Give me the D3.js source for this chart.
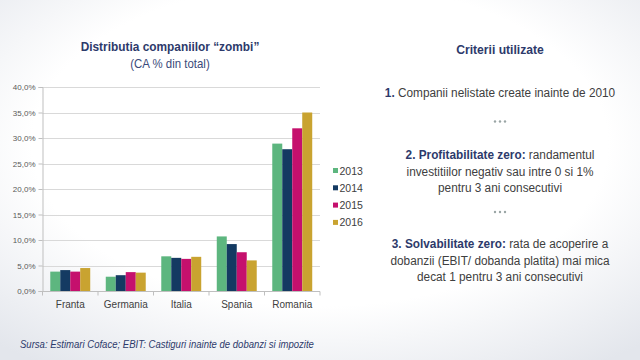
<!DOCTYPE html>
<html><head><meta charset="utf-8">
<script src="https://cdn.jsdelivr.net/npm/d3@7/dist/d3.min.js"></script>
<style>body{margin:0;padding:0;overflow:hidden}svg{display:block}</style>
</head><body><svg id="c" width="640" height="360"></svg>
<script>
const categories = ["Franta","Germania","Italia","Spania","Romania"];
const years = ["2013","2014","2015","2016"];
const values2013 = [3.8, 2.8, 6.8, 10.7, 28.9];
const values2014 = [4.1, 3.1, 6.5, 9.2, 27.8];
const values2015 = [3.8, 3.7, 6.3, 7.6, 31.9];
const values2016 = [4.5, 3.6, 6.7, 6.0, 35.0];
const yTicks = [0,5,10,15,20,25,30,35,40];
const colors = ["#5db67f","#143a62","#c5106d","#c9a330"];
const series = [values2013, values2014, values2015, values2016];

const FONT = "'Liberation Sans',Arial,sans-serif";
const svg = d3.select("#c");
const defs = svg.append("defs");
const rg = defs.append("radialGradient").attr("id","bg").attr("cx","50%").attr("cy","40%").attr("r","75%");
rg.append("stop").attr("offset","0%").attr("stop-color","#ffffff");
rg.append("stop").attr("offset","60%").attr("stop-color","#ffffff");
rg.append("stop").attr("offset","100%").attr("stop-color","#e3e6ec");
svg.append("rect").attr("width",640).attr("height",360).attr("fill","url(#bg)");

const x0 = d3.scaleBand().domain(categories).range([42.5,320]).paddingInner(0.28).paddingOuter(0.14);
const x1 = d3.scaleBand().domain(years).range([0,x0.bandwidth()]);
const y = d3.scaleLinear().domain([0,40]).range([291,87]);

// grid
svg.append("g").selectAll("line").data(yTicks.slice(1)).join("line")
  .attr("x1",42.5).attr("x2",320).attr("y1",d=>Math.round(y(d))+0.5).attr("y2",d=>Math.round(y(d))+0.5)
  .attr("stroke","#d9d9d9").attr("stroke-width",1);

// y axis
const yAxis = svg.append("g").attr("transform","translate(42.5,0)")
  .call(d3.axisLeft(y).tickValues(yTicks).tickSize(4).tickFormat(d=>d.toFixed(1).replace(".",",")+"%"));
yAxis.select(".domain").attr("stroke","#bfbfbf");
yAxis.selectAll(".tick line").attr("stroke","#bfbfbf");
yAxis.selectAll("text").attr("font-family",FONT).attr("font-size",8).attr("fill","#595959").attr("x",-7);

// bars
const groups = svg.append("g").selectAll("g").data(categories).join("g")
  .attr("transform",d=>`translate(${x0(d)},0)`);
groups.selectAll("rect").data((c,i)=>years.map((yr,j)=>({yr, v:series[j][i], j}))).join("rect")
  .attr("x",d=>x1(d.yr)).attr("width",x1.bandwidth())
  .attr("y",d=>y(d.v)).attr("height",d=>y(0)-y(d.v)).attr("fill",d=>colors[d.j]);

// x axis
const xAxis = svg.append("g").attr("transform","translate(0,291.5)")
  .call(d3.axisBottom(x0).tickSize(0).tickPadding(9));
xAxis.select(".domain").attr("stroke","#bfbfbf").attr("d","M42.5,0H320");
xAxis.selectAll("text").attr("font-family",FONT).attr("font-size",10).attr("fill","#404040");
svg.append("g").selectAll("line").data([0,1,2,3,4,5]).join("line")
  .attr("x1",(i)=>42.5+i*(320-42.5)/5).attr("x2",(i)=>42.5+i*(320-42.5)/5)
  .attr("y1",291.5).attr("y2",295.5).attr("stroke","#bfbfbf");

// legend
const leg = svg.append("g").selectAll("g").data(years).join("g")
  .attr("transform",(d,i)=>`translate(333,${171+i*17.3})`);
leg.append("rect").attr("x",0).attr("y",-3).attr("width",5).attr("height",5).attr("fill",(d,i)=>colors[i]);
leg.append("text").attr("x",6.5).attr("y",3.5).text(d=>d).attr("font-family",FONT).attr("font-size",10.5).attr("fill","#404040");

const navy = "#2d3a6b";
const body = "#404040";
function ctext(cx, yv, size, sx, parts, opts={}){
  const g = svg.append("g").attr("transform",`translate(${cx},${yv}) scale(${sx},1)`);
  const t = g.append("text").attr("x",0).attr("y",0).attr("text-anchor",opts.anchor||"middle")
    .attr("font-family",FONT).attr("font-size",size).attr("fill",opts.fill||body)
    .attr("font-style",opts.italic?"italic":null);
  parts.forEach(p=>{ t.append("tspan").text(p[0]).attr("font-weight",p[1]?"bold":null).attr("fill",p[1]?navy:(opts.fill||body)); });
}
ctext(170,51,13.5,0.88,[["Distributia companiilor “zombi”",true]]);
ctext(170,68,13,0.88,[["(CA % din total)",false]],{fill:"#3a4a7a"});
ctext(500,54,13.5,0.9,[["Criterii utilizate",true]]);

const SX = 0.875;
ctext(500,97,13.5,SX,[["1.",true],[" Companii nelistate create inainte de 2010",false]]);
ctext(500,159,13.5,SX,[["2. Profitabilitate zero:",true],[" randamentul",false]]);
ctext(500,175.5,13.5,SX,[["investitiilor negativ sau intre 0 si 1%",false]]);
ctext(500,192,13.5,SX,[["pentru 3 ani consecutivi",false]]);
ctext(500,248,13.5,SX,[["3. Solvabilitate zero:",true],[" rata de acoperire a",false]]);
ctext(500,264.5,13.5,SX,[["dobanzii (EBIT/ dobanda platita) mai mica",false]]);
ctext(500,281,13.5,SX,[["decat 1 pentru 3 ani consecutivi",false]]);

// dots
[121.5, 212].forEach(yy=>{
  svg.append("g").selectAll("circle").data([-5,0,5]).join("circle")
    .attr("cx",d=>500+d).attr("cy",yy).attr("r",1.2).attr("fill","#9aa5a5");
});

ctext(20,348,10.5,0.91,[["Sursa: Estimari Coface; EBIT: Castiguri inainte de dobanzi si impozite",false]],{anchor:"start",italic:true,fill:"#2d3a6b"});
</script></body></html>
